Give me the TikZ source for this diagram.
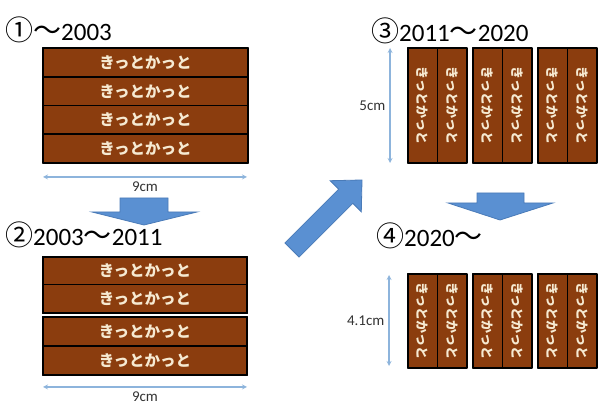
\documentclass[tikz,border=0pt]{standalone}
\usepackage{fontspec}
\setmainfont{Carlito}
\newfontfamily\cjk{Noto Sans CJK JP}
\definecolor{wood}{HTML}{8B3D0E}
\definecolor{cream}{HTML}{F6EAD2}
\definecolor{dimblue}{HTML}{8DB4DC}
\definecolor{arrowblue}{HTML}{5A90D2}
\definecolor{arrowedge}{HTML}{4A7BB8}
\newcommand\cj[1]{{\cjk\fontsize{28}{28}\selectfont #1}}
\tikzset{
  plank/.style={draw=black, line width=1.5pt, fill=wood, text=cream, inner sep=0pt,
    minimum width=205pt, minimum height=28.7pt, font=\cjk\bfseries\fontsize{15.5}{15.5}\selectfont},
  vplank/.style={plank, rotate=-90, minimum width=#1, minimum height=29.3pt,
    font=\cjk\bfseries\fontsize{13}{13}\selectfont},
  rim/.style={draw=black, line width=2pt},
  dim/.style={<->, draw=dimblue, line width=1.2pt},
  dimlabel/.style={font=\fontsize{15}{15}\selectfont, text=black!80, inner sep=1pt},
  ttl/.style={anchor=west, inner sep=0pt, font=\fontsize{25}{25}\selectfont},
  bigarrow/.style={fill=arrowblue, draw=arrowedge, line width=0.8pt, line join=miter},
}
\begin{document}
\begin{tikzpicture}[x=1pt, y=1pt, >=stealth, line join=round]
\useasboundingbox (0,0) rectangle (600,406);
% 1: ~2003
\node[ttl] (t1) at (5,376) {\cj{①～}2003};
\foreach \i in {0,...,3}
  \node[plank] (a\i) at (145.5,343.6-28.75*\i) {きっとかっと};
\draw[rim] (43,243) rectangle (248,358);
\coordinate (a-l) at (43,229);
\coordinate (a-r) at (247,229);
\draw[dim] (a-l) -- node[dimlabel, below=3pt] (a-len) {9cm} (a-r);
% 2: 2003~2011
\node[ttl] (t2) at (5,171) {\cj{②}2003\cj{～}2011};
\foreach \i/\y in {0/135,1/107,2/74.5,3/45.5}
  \node[plank] (b\i) at (145,\y) {きっとかっと};
\draw[rim] (43,93) rectangle (247,149);
\draw[rim] (43,31) rectangle (247,89);
\coordinate (b-l) at (43,19);
\coordinate (b-r) at (247,19);
\draw[dim] (b-l) -- node[dimlabel, below=3pt] (b-len) {9cm} (b-r);
% 3: 2011~2020
\node[ttl] (t3) at (371,375) {\cj{③}2011\cj{～}2020};
\foreach \g in {0,1,2}{
  \foreach \s in {0,1}
    \node[vplank=115pt] (c\g\s) at (408+65*\g+14.65+29.3*\s,300.5) {きっとかっと};
  \draw[rim] (408+65*\g,243) rectangle ++(58.6,115);
}
\coordinate (c-t) at (390,358);
\coordinate (c-b) at (390,243);
\draw[dim] (c-t) -- node[dimlabel, left=3pt] (c-len) {5cm} (c-b);
% 4: 2020~
\node[ttl] (t4) at (376,170) {\cj{④}2020\cj{～}};
\foreach \g in {0,1,2}{
  \foreach \s in {0,1}
    \node[vplank=94pt] (d\g\s) at (408+65*\g+14.65+29.3*\s,85) {きっとかっと};
  \draw[rim] (408+65*\g,38) rectangle ++(58.6,94);
}
\coordinate (d-t) at (389,131);
\coordinate (d-b) at (389,40);
\draw[dim] (d-t) -- node[dimlabel, left=3pt] (d-len) {4.1cm} (d-b);
% block arrows
\draw[bigarrow] (120,208) -- (168,208) -- (168,194) -- (197,194) -- (144,181) -- (92,194) -- (120,194) -- cycle;
\draw[bigarrow] (477,213) -- (524,213) -- (524,203) -- (553,203) -- (500,186) -- (448,203) -- (477,203) -- cycle;
\draw[bigarrow, shift={(292,156)}, rotate=45] (0,-10) -- (76,-10) -- (76,-22) -- (99,0) -- (76,22) -- (76,10) -- (0,10) -- cycle;
\end{tikzpicture}
\end{document}
